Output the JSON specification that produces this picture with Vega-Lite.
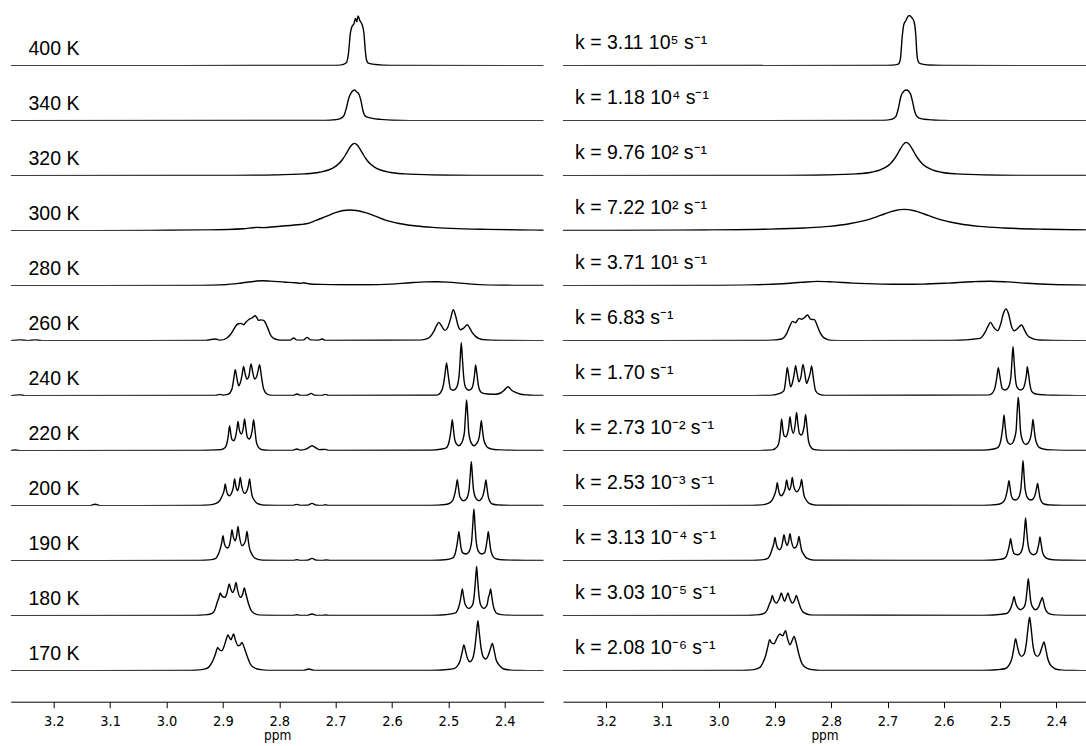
{
"$schema":"https://vega.github.io/schema/vega-lite/v6.json",
"padding":{"left":10.7,"top":11.6,"right":0,"bottom":0},
"background":"white",
"data":{"values":[
{"r":0,"lab":"400 K","k":"k = 3.11 10⁵ s⁻¹"},
{"r":1,"lab":"340 K","k":"k = 1.18 10⁴ s⁻¹"},
{"r":2,"lab":"320 K","k":"k = 9.76 10² s⁻¹"},
{"r":3,"lab":"300 K","k":"k = 7.22 10² s⁻¹"},
{"r":4,"lab":"280 K","k":"k = 3.71 10¹ s⁻¹"},
{"r":5,"lab":"260 K","k":"k = 6.83 s⁻¹"},
{"r":6,"lab":"240 K","k":"k = 1.70 s⁻¹"},
{"r":7,"lab":"220 K","k":"k = 2.73 10⁻² s⁻¹"},
{"r":8,"lab":"200 K","k":"k = 2.53 10⁻³ s⁻¹"},
{"r":9,"lab":"190 K","k":"k = 3.13 10⁻⁴ s⁻¹"},
{"r":10,"lab":"180 K","k":"k = 3.03 10⁻⁵ s⁻¹"},
{"r":11,"lab":"170 K","k":"k = 2.08 10⁻⁶ s⁻¹"},
{"r":0,"x":3.2764,"e":0,"s":0},
{"r":0,"x":2.7093,"e":0.3,"s":0.2},
{"r":0,"x":2.6915,"e":0.6,"s":0.4},
{"r":0,"x":2.6808,"e":3,"s":1.5},
{"r":0,"x":2.6773,"e":12,"s":6},
{"r":0,"x":2.6737,"e":33,"s":30},
{"r":0,"x":2.6711,"e":39,"s":41},
{"r":0,"x":2.6675,"e":42,"s":45},
{"r":0,"x":2.6649,"e":47.3,"s":48},
{"r":0,"x":2.6625,"e":44,"s":50},
{"r":0,"x":2.6602,"e":49.7,"s":50},
{"r":0,"x":2.6569,"e":45,"s":48},
{"r":0,"x":2.6528,"e":40.7,"s":44},
{"r":0,"x":2.6497,"e":32,"s":30},
{"r":0,"x":2.6478,"e":18,"s":12},
{"r":0,"x":2.6453,"e":6,"s":4},
{"r":0,"x":2.6418,"e":2.5,"s":2},
{"r":0,"x":2.6293,"e":1.2,"s":0.7},
{"r":0,"x":2.6027,"e":0.3,"s":0.2},
{"r":0,"x":2.3475,"e":0,"s":0},
{"r":0,"x":2.3309,"e":0,"s":0},
{"r":1,"x":3.2764,"e":0,"s":0},
{"r":1,"x":2.7181,"e":0.3,"s":0.2},
{"r":1,"x":2.7004,"e":1,"s":0.6},
{"r":1,"x":2.6915,"e":2,"s":1.5},
{"r":1,"x":2.6853,"e":5,"s":4},
{"r":1,"x":2.6808,"e":13,"s":12},
{"r":1,"x":2.6764,"e":23,"s":24},
{"r":1,"x":2.6711,"e":29,"s":29.5},
{"r":1,"x":2.6663,"e":30.7,"s":30.7},
{"r":1,"x":2.6622,"e":28.5,"s":29.5},
{"r":1,"x":2.6586,"e":26.5,"s":26},
{"r":1,"x":2.6551,"e":20,"s":18},
{"r":1,"x":2.6515,"e":10,"s":9},
{"r":1,"x":2.648,"e":5,"s":4.5},
{"r":1,"x":2.6435,"e":3.5,"s":2.5},
{"r":1,"x":2.6347,"e":2.3,"s":1.4},
{"r":1,"x":2.6204,"e":1.3,"s":0.7},
{"r":1,"x":2.5991,"e":0.4,"s":0.3},
{"r":1,"x":2.5672,"e":0,"s":0},
{"r":1,"x":2.3475,"e":0,"s":0},
{"r":1,"x":2.3309,"e":0,"s":0},
{"r":2,"x":3.2764,"e":0.1,"s":0.1},
{"r":2,"x":2.9863,"e":0.15,"s":0.15},
{"r":2,"x":2.8797,"e":0.3,"s":0.3},
{"r":2,"x":2.8087,"e":0.7,"s":0.7},
{"r":2,"x":2.7554,"e":1.8,"s":1.8},
{"r":2,"x":2.7288,"e":3.4,"s":3.5},
{"r":2,"x":2.7128,"e":5.7,"s":5.9},
{"r":2,"x":2.7021,"e":8.6,"s":8.8},
{"r":2,"x":2.695,"e":11.6,"s":12},
{"r":2,"x":2.6879,"e":16.2,"s":16.7},
{"r":2,"x":2.6826,"e":20.7,"s":21.3},
{"r":2,"x":2.6773,"e":25.8,"s":26.6},
{"r":2,"x":2.6719,"e":30.4,"s":31.3},
{"r":2,"x":2.6666,"e":32.3,"s":33.3},
{"r":2,"x":2.6613,"e":30.4,"s":31.3},
{"r":2,"x":2.6559,"e":25.8,"s":26.6},
{"r":2,"x":2.6506,"e":20.7,"s":21.3},
{"r":2,"x":2.6453,"e":16.2,"s":16.7},
{"r":2,"x":2.6382,"e":11.6,"s":12},
{"r":2,"x":2.6311,"e":8.6,"s":8.8},
{"r":2,"x":2.6204,"e":5.7,"s":5.9},
{"r":2,"x":2.6044,"e":3.4,"s":3.5},
{"r":2,"x":2.5778,"e":1.8,"s":1.8},
{"r":2,"x":2.5245,"e":0.7,"s":0.7},
{"r":2,"x":2.4535,"e":0.3,"s":0.3},
{"r":2,"x":2.3475,"e":0.15,"s":0.15},
{"r":2,"x":2.3309,"e":0.1,"s":0.1},
{"r":3,"x":3.2764,"e":0,"s":0.25},
{"r":3,"x":3.029,"e":0.3},
{"r":3,"x":2.926,"e":0.8},
{"r":3,"x":2.8638,"e":2},
{"r":3,"x":2.8389,"e":3.3},
{"r":3,"x":2.83,"e":3.1},
{"r":3,"x":2.7981,"e":4.5},
{"r":3,"x":2.7625,"e":6.2},
{"r":3,"x":2.7519,"e":6.9},
{"r":3,"x":2.7359,"e":10},
{"r":3,"x":2.7181,"e":14},
{"r":3,"x":2.7004,"e":18},
{"r":3,"x":2.6862,"e":20.2},
{"r":3,"x":2.6755,"e":20.7},
{"r":3,"x":2.6631,"e":20.2},
{"r":3,"x":2.6471,"e":18},
{"r":3,"x":2.6293,"e":14.5},
{"r":3,"x":2.6116,"e":10.5},
{"r":3,"x":2.5849,"e":7},
{"r":3,"x":2.5565,"e":4.7},
{"r":3,"x":2.5281,"e":3.3},
{"r":3,"x":2.4943,"e":2.3},
{"r":3,"x":2.4322,"e":1.3},
{"r":3,"x":2.3718,"e":0.7},
{"r":3,"x":2.3475,"e":0.55,"s":0.85},
{"r":3,"x":2.3309,"e":0.5,"s":0.8},
{"r":3,"x":3.203,"s":0.34},
{"r":3,"x":3.0254,"s":0.74},
{"r":3,"x":2.9189,"s":1.46},
{"r":3,"x":2.8478,"s":2.7},
{"r":3,"x":2.8034,"s":4.35},
{"r":3,"x":2.7679,"s":6.9},
{"r":3,"x":2.7412,"s":10.1},
{"r":3,"x":2.7235,"s":13.1},
{"r":3,"x":2.7057,"s":16.7},
{"r":3,"x":2.6879,"s":19.9},
{"r":3,"x":2.6702,"s":21.3},
{"r":3,"x":2.6524,"s":19.9},
{"r":3,"x":2.6347,"s":16.7},
{"r":3,"x":2.6169,"s":13.1},
{"r":3,"x":2.5991,"s":10.1},
{"r":3,"x":2.5725,"s":6.9},
{"r":3,"x":2.537,"s":4.35},
{"r":3,"x":2.4926,"s":2.7},
{"r":3,"x":2.4215,"s":1.46},
{"r":4,"x":3.2764,"e":0,"s":0},
{"r":4,"x":2.9402,"e":0.3,"s":0.8},
{"r":4,"x":2.8958,"e":1},
{"r":4,"x":2.8691,"e":2.5},
{"r":4,"x":2.8425,"e":4.5},
{"r":4,"x":2.83,"e":5},
{"r":4,"x":2.8158,"e":4.6},
{"r":4,"x":2.7892,"e":3.5},
{"r":4,"x":2.7714,"e":3},
{"r":4,"x":2.7625,"e":2.3,"s":2.6},
{"r":4,"x":2.7572,"e":3},
{"r":4,"x":2.7483,"e":2},
{"r":4,"x":2.727,"e":1.3},
{"r":4,"x":2.6915,"e":1},
{"r":4,"x":2.6382,"e":1,"s":1.6},
{"r":4,"x":2.6027,"e":1.6},
{"r":4,"x":2.5672,"e":3},
{"r":4,"x":2.5405,"e":3.8},
{"r":4,"x":2.521,"e":4},
{"r":4,"x":2.5014,"e":3.6},
{"r":4,"x":2.4784,"e":2.6},
{"r":4,"x":2.4517,"e":1.3,"s":2.4},
{"r":4,"x":2.4251,"e":0.6},
{"r":4,"x":2.3718,"e":0.3},
{"r":4,"x":2.3475,"e":0.2,"s":0.6},
{"r":4,"x":2.3309,"e":0.2,"s":0.5},
{"r":4,"x":3.029,"s":0.3},
{"r":4,"x":2.8869,"s":2},
{"r":4,"x":2.8514,"s":3.5},
{"r":4,"x":2.8247,"s":4.3},
{"r":4,"x":2.7981,"s":3.8},
{"r":4,"x":2.7093,"s":1.6},
{"r":4,"x":2.6737,"s":1.4},
{"r":4,"x":2.5938,"s":2.6},
{"r":4,"x":2.5494,"s":4},
{"r":4,"x":2.5174,"s":4.5},
{"r":4,"x":2.4872,"s":3.8},
{"r":4,"x":2.4073,"s":1.2},
{"r":5,"x":3.2764,"e":0,"s":0},
{"r":5,"x":3.2599,"e":0.8},
{"r":5,"x":3.2457,"e":0},
{"r":5,"x":3.2332,"e":0.8},
{"r":5,"x":3.2208,"e":0},
{"r":5,"x":2.9313,"e":0.3},
{"r":5,"x":2.9135,"e":1.7},
{"r":5,"x":2.9046,"e":0.4,"s":0.6},
{"r":5,"x":2.8928,"e":2.7},
{"r":5,"x":2.8869,"e":6},
{"r":5,"x":2.881,"e":11},
{"r":5,"x":2.8762,"e":15.5},
{"r":5,"x":2.8721,"e":17},
{"r":5,"x":2.8679,"e":17.3},
{"r":5,"x":2.8633,"e":16},
{"r":5,"x":2.8585,"e":19},
{"r":5,"x":2.8544,"e":21},
{"r":5,"x":2.8483,"e":22.7},
{"r":5,"x":2.8425,"e":25},
{"r":5,"x":2.8398,"e":23},
{"r":5,"x":2.8366,"e":20.3,"s":21.5},
{"r":5,"x":2.8327,"e":20.8},
{"r":5,"x":2.8277,"e":20.3},
{"r":5,"x":2.8247,"e":18,"s":15},
{"r":5,"x":2.8217,"e":14.3},
{"r":5,"x":2.8185,"e":10},
{"r":5,"x":2.8158,"e":6},
{"r":5,"x":2.8114,"e":3},
{"r":5,"x":2.807,"e":1.7},
{"r":5,"x":2.7981,"e":0.4},
{"r":5,"x":2.7803,"e":0.5},
{"r":5,"x":2.7744,"e":2.7},
{"r":5,"x":2.7688,"e":0.6},
{"r":5,"x":2.7572,"e":0.6},
{"r":5,"x":2.7506,"e":3.3},
{"r":5,"x":2.7448,"e":0.8},
{"r":5,"x":2.7306,"e":0.4},
{"r":5,"x":2.724,"e":1.7},
{"r":5,"x":2.7181,"e":0.3},
{"r":5,"x":2.5494,"e":0.6},
{"r":5,"x":2.5375,"e":2},
{"r":5,"x":2.5316,"e":4.5},
{"r":5,"x":2.5258,"e":9.3},
{"r":5,"x":2.521,"e":15},
{"r":5,"x":2.5169,"e":18.3,"s":18.3},
{"r":5,"x":2.513,"e":15.5},
{"r":5,"x":2.5062,"e":10.3},
{"r":5,"x":2.5014,"e":13},
{"r":5,"x":2.4961,"e":22},
{"r":5,"x":2.4913,"e":31},
{"r":5,"x":2.4872,"e":25},
{"r":5,"x":2.4828,"e":15},
{"r":5,"x":2.4784,"e":11},
{"r":5,"x":2.4721,"e":13},
{"r":5,"x":2.4665,"e":16},
{"r":5,"x":2.4615,"e":12},
{"r":5,"x":2.457,"e":7.5},
{"r":5,"x":2.4517,"e":4.3,"s":5.5},
{"r":5,"x":2.4464,"e":2.3},
{"r":5,"x":2.437,"e":1},
{"r":5,"x":2.4073,"e":0.3,"s":0.2},
{"r":5,"x":2.3475,"e":0,"s":0},
{"r":5,"x":2.3309,"e":0,"s":0},
{"r":5,"x":2.9402,"s":0.2},
{"r":5,"x":2.8881,"s":1.7},
{"r":5,"x":2.8792,"s":7},
{"r":5,"x":2.8732,"s":15},
{"r":5,"x":2.8686,"s":19.3},
{"r":5,"x":2.8638,"s":18},
{"r":5,"x":2.8572,"s":22.3},
{"r":5,"x":2.8522,"s":21.5},
{"r":5,"x":2.8469,"s":23.5},
{"r":5,"x":2.8419,"s":25.7},
{"r":5,"x":2.83,"s":21},
{"r":5,"x":2.8199,"s":8.3},
{"r":5,"x":2.8149,"s":4},
{"r":5,"x":2.811,"s":2.3},
{"r":5,"x":2.7993,"s":0.3},
{"r":5,"x":2.7625,"s":0.1},
{"r":5,"x":2.5849,"s":0.2},
{"r":5,"x":2.5357,"s":2.3},
{"r":5,"x":2.5268,"s":8.3},
{"r":5,"x":2.5219,"s":14},
{"r":5,"x":2.5121,"s":14},
{"r":5,"x":2.5045,"s":10},
{"r":5,"x":2.4988,"s":17},
{"r":5,"x":2.4949,"s":26},
{"r":5,"x":2.4895,"s":31.7},
{"r":5,"x":2.4846,"s":26},
{"r":5,"x":2.4801,"s":15},
{"r":5,"x":2.4748,"s":10},
{"r":5,"x":2.4686,"s":12.5},
{"r":5,"x":2.4618,"s":15.7},
{"r":5,"x":2.4561,"s":10},
{"r":5,"x":2.4469,"s":3.3},
{"r":5,"x":2.4322,"s":0.7},
{"r":6,"x":3.2764,"e":0,"s":0},
{"r":6,"x":3.2599,"e":0.8},
{"r":6,"x":3.251,"e":0},
{"r":6,"x":2.9402,"e":0.2,"s":0.1},
{"r":6,"x":2.9135,"e":0.3,"s":0.3},
{"r":6,"x":2.9046,"e":1.3,"s":0.6},
{"r":6,"x":2.8993,"e":0.5,"s":1},
{"r":6,"x":2.8904,"e":1.5,"s":2.5},
{"r":6,"x":2.8839,"e":6.7,"s":5},
{"r":6,"x":2.8807,"e":17,"s":16},
{"r":6,"x":2.878,"e":26,"s":28.3},
{"r":6,"x":2.8753,"e":18,"s":19},
{"r":6,"x":2.8721,"e":10,"s":9},
{"r":6,"x":2.8691,"e":13,"s":12.5},
{"r":6,"x":2.8659,"e":21,"s":21},
{"r":6,"x":2.8633,"e":29.3,"s":30},
{"r":6,"x":2.8606,"e":22,"s":22},
{"r":6,"x":2.8572,"e":16.7,"s":14},
{"r":6,"x":2.8537,"e":20,"s":19},
{"r":6,"x":2.8501,"e":31.7,"s":31.3},
{"r":6,"x":2.8469,"e":23,"s":22},
{"r":6,"x":2.8437,"e":16.7,"s":12.3},
{"r":6,"x":2.8402,"e":19,"s":17},
{"r":6,"x":2.8375,"e":25,"s":22},
{"r":6,"x":2.8348,"e":31,"s":29.7},
{"r":6,"x":2.8318,"e":20,"s":18},
{"r":6,"x":2.8277,"e":6.7,"s":5},
{"r":6,"x":2.8217,"e":1.7,"s":1.5},
{"r":6,"x":2.8123,"e":0.3,"s":0.3},
{"r":6,"x":2.775,"e":0.3},
{"r":6,"x":2.7684,"e":1.7},
{"r":6,"x":2.7625,"e":0.3},
{"r":6,"x":2.7501,"e":0.5},
{"r":6,"x":2.7435,"e":2.3},
{"r":6,"x":2.7377,"e":0.5},
{"r":6,"x":2.724,"e":0.3},
{"r":6,"x":2.7181,"e":1.3},
{"r":6,"x":2.7128,"e":0.2},
{"r":6,"x":2.521,"e":0.5,"s":0.6},
{"r":6,"x":2.5139,"e":3,"s":2.5},
{"r":6,"x":2.5091,"e":10,"s":8},
{"r":6,"x":2.5059,"e":22,"s":18},
{"r":6,"x":2.5032,"e":32.7,"s":28},
{"r":6,"x":2.5006,"e":22,"s":20},
{"r":6,"x":2.4961,"e":6.7,"s":7},
{"r":6,"x":2.4908,"e":5.5,"s":5.7},
{"r":6,"x":2.4855,"e":8,"s":8},
{"r":6,"x":2.481,"e":20,"s":18},
{"r":6,"x":2.4789,"e":38,"s":35},
{"r":6,"x":2.4771,"e":53,"s":49},
{"r":6,"x":2.4752,"e":38,"s":35},
{"r":6,"x":2.473,"e":20,"s":18},
{"r":6,"x":2.4695,"e":8.3,"s":8},
{"r":6,"x":2.4641,"e":5.5,"s":5.7},
{"r":6,"x":2.4593,"e":6.7,"s":7},
{"r":6,"x":2.4549,"e":15,"s":15},
{"r":6,"x":2.453,"e":24,"s":22},
{"r":6,"x":2.4517,"e":30.7,"s":29},
{"r":6,"x":2.4494,"e":22,"s":21},
{"r":6,"x":2.4467,"e":10,"s":10},
{"r":6,"x":2.4441,"e":5,"s":4.5},
{"r":6,"x":2.4393,"e":2.5,"s":2.2},
{"r":6,"x":2.4309,"e":1.7,"s":1.2},
{"r":6,"x":2.4162,"e":1.5,"s":0.6},
{"r":6,"x":2.4073,"e":2.7,"s":0.4},
{"r":6,"x":2.402,"e":5},
{"r":6,"x":2.3943,"e":9},
{"r":6,"x":2.3878,"e":5.5},
{"r":6,"x":2.3807,"e":3.3,"s":0.2},
{"r":6,"x":2.3718,"e":1.5},
{"r":6,"x":2.3599,"e":0.7},
{"r":6,"x":2.3475,"e":0.3,"s":0},
{"r":6,"x":2.3309,"e":0.3,"s":0},
{"r":7,"x":3.2764,"e":0,"s":0},
{"r":7,"x":3.2688,"e":0.7},
{"r":7,"x":3.2563,"e":0},
{"r":7,"x":2.9402,"e":0.3,"s":0.1},
{"r":7,"x":2.9046,"e":1,"s":0.8},
{"r":7,"x":2.8958,"e":3.3,"s":4},
{"r":7,"x":2.8922,"e":9,"s":10},
{"r":7,"x":2.8904,"e":15,"s":18},
{"r":7,"x":2.8881,"e":25,"s":31.7},
{"r":7,"x":2.8858,"e":16,"s":21},
{"r":7,"x":2.8837,"e":11,"s":15},
{"r":7,"x":2.881,"e":10,"s":14},
{"r":7,"x":2.878,"e":13,"s":16.5},
{"r":7,"x":2.8755,"e":20,"s":23},
{"r":7,"x":2.8732,"e":29.3,"s":34},
{"r":7,"x":2.8709,"e":21,"s":24.5},
{"r":7,"x":2.8673,"e":16.7,"s":17.3},
{"r":7,"x":2.864,"e":22,"s":26},
{"r":7,"x":2.8615,"e":31.7,"s":38.3},
{"r":7,"x":2.8592,"e":22,"s":27},
{"r":7,"x":2.8563,"e":13,"s":17},
{"r":7,"x":2.8531,"e":11.7,"s":15.7},
{"r":7,"x":2.8501,"e":15,"s":19},
{"r":7,"x":2.8478,"e":21,"s":25},
{"r":7,"x":2.8455,"e":31,"s":36.3},
{"r":7,"x":2.8432,"e":21,"s":25},
{"r":7,"x":2.8407,"e":9,"s":11},
{"r":7,"x":2.8384,"e":5,"s":6},
{"r":7,"x":2.8345,"e":2,"s":2.5},
{"r":7,"x":2.8306,"e":1,"s":1.2},
{"r":7,"x":2.8158,"e":0.3,"s":0.3},
{"r":7,"x":2.7768,"e":0.3},
{"r":7,"x":2.7684,"e":1.7},
{"r":7,"x":2.7625,"e":0.4},
{"r":7,"x":2.7506,"e":2},
{"r":7,"x":2.7418,"e":5},
{"r":7,"x":2.7341,"e":2.5},
{"r":7,"x":2.7288,"e":1},
{"r":7,"x":2.7181,"e":1.3},
{"r":7,"x":2.7128,"e":0.3},
{"r":7,"x":2.5316,"e":0.5,"s":0.5},
{"r":7,"x":2.5139,"e":1.5,"s":1.5},
{"r":7,"x":2.505,"e":2.5,"s":2.8},
{"r":7,"x":2.5002,"e":6,"s":7},
{"r":7,"x":2.497,"e":14,"s":16},
{"r":7,"x":2.495,"e":22,"s":25},
{"r":7,"x":2.4931,"e":31,"s":35.7},
{"r":7,"x":2.4911,"e":22,"s":25},
{"r":7,"x":2.489,"e":12,"s":14},
{"r":7,"x":2.486,"e":7,"s":8},
{"r":7,"x":2.4814,"e":5,"s":6.3},
{"r":7,"x":2.4766,"e":7.5,"s":9},
{"r":7,"x":2.4716,"e":18,"s":20},
{"r":7,"x":2.4696,"e":36,"s":40},
{"r":7,"x":2.4677,"e":50.7,"s":53.5},
{"r":7,"x":2.4657,"e":36,"s":40},
{"r":7,"x":2.4638,"e":18,"s":20},
{"r":7,"x":2.4593,"e":7.5,"s":9},
{"r":7,"x":2.4547,"e":5,"s":6.3},
{"r":7,"x":2.4499,"e":7,"s":8},
{"r":7,"x":2.4455,"e":13,"s":14},
{"r":7,"x":2.4435,"e":21,"s":22},
{"r":7,"x":2.4416,"e":30,"s":31.3},
{"r":7,"x":2.4396,"e":21,"s":22},
{"r":7,"x":2.4375,"e":12,"s":12.5},
{"r":7,"x":2.4339,"e":6,"s":6},
{"r":7,"x":2.4299,"e":3,"s":3},
{"r":7,"x":2.4215,"e":1.5,"s":1.5},
{"r":7,"x":2.4073,"e":0.8,"s":0.8},
{"r":7,"x":2.3718,"e":0.3,"s":0.3},
{"r":7,"x":2.3475,"e":0.2,"s":0.2},
{"r":7,"x":2.3309,"e":0.2,"s":0.2},
{"r":8,"x":3.2764,"e":0,"s":0},
{"r":8,"x":3.1355,"e":0},
{"r":8,"x":3.1267,"e":1.5},
{"r":8,"x":3.1178,"e":0},
{"r":8,"x":2.9402,"e":0.3,"s":0.3},
{"r":8,"x":2.9224,"e":0.8,"s":0.8},
{"r":8,"x":2.9135,"e":2,"s":2},
{"r":8,"x":2.9064,"e":4.5,"s":4.5},
{"r":8,"x":2.902,"e":9,"s":9},
{"r":8,"x":2.8979,"e":15,"s":16},
{"r":8,"x":2.8958,"e":21.7,"s":23},
{"r":8,"x":2.8936,"e":15,"s":16},
{"r":8,"x":2.8911,"e":11,"s":11},
{"r":8,"x":2.8881,"e":10,"s":10},
{"r":8,"x":2.8851,"e":12,"s":12},
{"r":8,"x":2.8816,"e":18,"s":17.5},
{"r":8,"x":2.8792,"e":26.7,"s":25.7},
{"r":8,"x":2.8768,"e":19,"s":19},
{"r":8,"x":2.8739,"e":15,"s":15.7},
{"r":8,"x":2.8714,"e":20,"s":20},
{"r":8,"x":2.8691,"e":28.3,"s":28.3},
{"r":8,"x":2.8668,"e":20,"s":20},
{"r":8,"x":2.8615,"e":12.3,"s":14},
{"r":8,"x":2.8567,"e":16,"s":17},
{"r":8,"x":2.8547,"e":20,"s":20},
{"r":8,"x":2.8526,"e":26.7,"s":26.3},
{"r":8,"x":2.8505,"e":18,"s":18},
{"r":8,"x":2.8482,"e":10,"s":10},
{"r":8,"x":2.8455,"e":6.7,"s":6.7},
{"r":8,"x":2.8416,"e":3.5,"s":3.5},
{"r":8,"x":2.8366,"e":1.7,"s":1.7},
{"r":8,"x":2.8247,"e":0.4,"s":0.4},
{"r":8,"x":2.7768,"e":0.2},
{"r":8,"x":2.7684,"e":1.3},
{"r":8,"x":2.7625,"e":0.3},
{"r":8,"x":2.7501,"e":0.4},
{"r":8,"x":2.7418,"e":2.3},
{"r":8,"x":2.7341,"e":0.4},
{"r":8,"x":2.7235,"e":0.2},
{"r":8,"x":2.7181,"e":1},
{"r":8,"x":2.7128,"e":0.2},
{"r":8,"x":2.5316,"e":0.3,"s":0.3},
{"r":8,"x":2.505,"e":1.2,"s":1.2},
{"r":8,"x":2.4974,"e":2.5,"s":2.5},
{"r":8,"x":2.4917,"e":6,"s":6},
{"r":8,"x":2.4881,"e":13,"s":13},
{"r":8,"x":2.4862,"e":19,"s":19},
{"r":8,"x":2.4842,"e":26,"s":25},
{"r":8,"x":2.4823,"e":19,"s":18},
{"r":8,"x":2.4801,"e":10,"s":10},
{"r":8,"x":2.4771,"e":6.5,"s":6.5},
{"r":8,"x":2.4725,"e":5,"s":5.7},
{"r":8,"x":2.4677,"e":7,"s":7.5},
{"r":8,"x":2.4633,"e":16,"s":16},
{"r":8,"x":2.4613,"e":30,"s":30},
{"r":8,"x":2.4593,"e":44,"s":45},
{"r":8,"x":2.4574,"e":30,"s":30},
{"r":8,"x":2.4554,"e":16,"s":16},
{"r":8,"x":2.4508,"e":7,"s":7.5},
{"r":8,"x":2.4458,"e":5,"s":5.7},
{"r":8,"x":2.4411,"e":7,"s":7},
{"r":8,"x":2.4373,"e":13,"s":12},
{"r":8,"x":2.4354,"e":19,"s":17},
{"r":8,"x":2.4334,"e":25.7,"s":22.3},
{"r":8,"x":2.4315,"e":18,"s":16},
{"r":8,"x":2.4292,"e":9,"s":8},
{"r":8,"x":2.426,"e":4,"s":3.5},
{"r":8,"x":2.422,"e":1.7,"s":1.7},
{"r":8,"x":2.4126,"e":0.7,"s":0.7},
{"r":8,"x":2.3895,"e":0.3,"s":0.3},
{"r":8,"x":2.3475,"e":0.2,"s":0.2},
{"r":8,"x":2.3309,"e":0.2,"s":0.2},
{"r":9,"x":3.2764,"e":0,"s":0},
{"r":9,"x":2.9402,"e":0.3,"s":0.3},
{"r":9,"x":2.9224,"e":0.8,"s":0.8},
{"r":9,"x":2.9135,"e":2,"s":2},
{"r":9,"x":2.9077,"e":7,"s":7},
{"r":9,"x":2.9041,"e":13,"s":13},
{"r":9,"x":2.902,"e":18,"s":17},
{"r":9,"x":2.8998,"e":25,"s":23.3},
{"r":9,"x":2.8977,"e":18,"s":17},
{"r":9,"x":2.8952,"e":14,"s":12.5},
{"r":9,"x":2.8917,"e":12.7,"s":11},
{"r":9,"x":2.8887,"e":15,"s":13},
{"r":9,"x":2.8862,"e":22,"s":19},
{"r":9,"x":2.8839,"e":31,"s":26},
{"r":9,"x":2.8816,"e":24,"s":20},
{"r":9,"x":2.878,"e":20,"s":15.3},
{"r":9,"x":2.8755,"e":25,"s":20},
{"r":9,"x":2.8732,"e":34.3,"s":27},
{"r":9,"x":2.8709,"e":25,"s":20},
{"r":9,"x":2.8661,"e":15,"s":12.7},
{"r":9,"x":2.862,"e":17,"s":14},
{"r":9,"x":2.8595,"e":21,"s":18},
{"r":9,"x":2.8572,"e":29.3,"s":24.3},
{"r":9,"x":2.8549,"e":20,"s":17},
{"r":9,"x":2.8526,"e":12,"s":10.5},
{"r":9,"x":2.8501,"e":8.3,"s":7.5},
{"r":9,"x":2.846,"e":4,"s":4},
{"r":9,"x":2.8425,"e":2.3,"s":2.3},
{"r":9,"x":2.83,"e":0.5,"s":0.5},
{"r":9,"x":2.7768,"e":0.2},
{"r":9,"x":2.7684,"e":1},
{"r":9,"x":2.7625,"e":0.2},
{"r":9,"x":2.7501,"e":0.4},
{"r":9,"x":2.7418,"e":2.3},
{"r":9,"x":2.7341,"e":0.4},
{"r":9,"x":2.7235,"e":0.2},
{"r":9,"x":2.7164,"e":0.7},
{"r":9,"x":2.7093,"e":0.2},
{"r":9,"x":2.5316,"e":0.3,"s":0.3},
{"r":9,"x":2.505,"e":1,"s":1},
{"r":9,"x":2.4931,"e":2.5,"s":2.2},
{"r":9,"x":2.4885,"e":6,"s":5},
{"r":9,"x":2.4853,"e":14,"s":11},
{"r":9,"x":2.4833,"e":21,"s":16},
{"r":9,"x":2.4814,"e":29,"s":22},
{"r":9,"x":2.4794,"e":21,"s":16},
{"r":9,"x":2.4773,"e":12,"s":10},
{"r":9,"x":2.4739,"e":7.5,"s":6.5},
{"r":9,"x":2.4682,"e":6.7,"s":6},
{"r":9,"x":2.4633,"e":9,"s":8},
{"r":9,"x":2.4588,"e":19,"s":17},
{"r":9,"x":2.4567,"e":36,"s":30},
{"r":9,"x":2.4547,"e":51.7,"s":42.7},
{"r":9,"x":2.4528,"e":36,"s":30},
{"r":9,"x":2.4506,"e":19,"s":17},
{"r":9,"x":2.4464,"e":9,"s":8},
{"r":9,"x":2.4411,"e":6.7,"s":6},
{"r":9,"x":2.4357,"e":8,"s":7.5},
{"r":9,"x":2.4331,"e":14,"s":12},
{"r":9,"x":2.4311,"e":21,"s":17},
{"r":9,"x":2.4292,"e":29,"s":23.7},
{"r":9,"x":2.4272,"e":21,"s":17},
{"r":9,"x":2.4249,"e":11,"s":9},
{"r":9,"x":2.4215,"e":5,"s":4.5},
{"r":9,"x":2.4162,"e":2,"s":2},
{"r":9,"x":2.4073,"e":1,"s":1},
{"r":9,"x":2.3807,"e":0.4,"s":0.4},
{"r":9,"x":2.3475,"e":0.2,"s":0.2},
{"r":9,"x":2.3309,"e":0.2,"s":0.2},
{"r":10,"x":3.2764,"e":0,"s":0},
{"r":10,"x":2.949,"e":0.3,"s":0.3},
{"r":10,"x":2.9313,"e":0.8,"s":0.8},
{"r":10,"x":2.9224,"e":1.7,"s":1.7},
{"r":10,"x":2.9176,"e":3,"s":3},
{"r":10,"x":2.9135,"e":7,"s":6},
{"r":10,"x":2.9103,"e":13,"s":11},
{"r":10,"x":2.9071,"e":18,"s":15},
{"r":10,"x":2.9046,"e":22.7,"s":20.3},
{"r":10,"x":2.9021,"e":20,"s":16},
{"r":10,"x":2.897,"e":18.3,"s":12.7},
{"r":10,"x":2.8931,"e":22,"s":16},
{"r":10,"x":2.891,"e":27,"s":19},
{"r":10,"x":2.8887,"e":31.7,"s":22.7},
{"r":10,"x":2.8862,"e":27,"s":19},
{"r":10,"x":2.8828,"e":23.3,"s":14.3},
{"r":10,"x":2.8794,"e":27,"s":19},
{"r":10,"x":2.8768,"e":33.3,"s":22.7},
{"r":10,"x":2.8741,"e":26,"s":18},
{"r":10,"x":2.8691,"e":18.3,"s":12.7},
{"r":10,"x":2.8647,"e":22,"s":16},
{"r":10,"x":2.862,"e":27.7,"s":20.3},
{"r":10,"x":2.8592,"e":22,"s":16},
{"r":10,"x":2.8544,"e":11.7,"s":8},
{"r":10,"x":2.8505,"e":6,"s":4},
{"r":10,"x":2.8455,"e":2.7,"s":2.2},
{"r":10,"x":2.8336,"e":0.6,"s":0.6},
{"r":10,"x":2.7768,"e":0.2},
{"r":10,"x":2.7684,"e":1},
{"r":10,"x":2.7625,"e":0.2},
{"r":10,"x":2.7501,"e":0.3},
{"r":10,"x":2.7418,"e":1.7},
{"r":10,"x":2.7341,"e":0.3},
{"r":10,"x":2.7235,"e":0.2},
{"r":10,"x":2.7181,"e":0.7},
{"r":10,"x":2.711,"e":0.2},
{"r":10,"x":2.5316,"e":0.3,"s":0.3},
{"r":10,"x":2.505,"e":1,"s":1},
{"r":10,"x":2.4885,"e":2.5,"s":2.2},
{"r":10,"x":2.4833,"e":6,"s":5},
{"r":10,"x":2.4796,"e":13,"s":10},
{"r":10,"x":2.4775,"e":19.5,"s":14},
{"r":10,"x":2.4753,"e":26.7,"s":19.3},
{"r":10,"x":2.4732,"e":20,"s":14.5},
{"r":10,"x":2.4707,"e":12,"s":10},
{"r":10,"x":2.4636,"e":7.3,"s":6},
{"r":10,"x":2.457,"e":11,"s":9},
{"r":10,"x":2.4542,"e":20,"s":15},
{"r":10,"x":2.4521,"e":34,"s":26},
{"r":10,"x":2.4499,"e":49.3,"s":37},
{"r":10,"x":2.4478,"e":34,"s":26},
{"r":10,"x":2.4457,"e":20,"s":15},
{"r":10,"x":2.4428,"e":11,"s":9},
{"r":10,"x":2.437,"e":7.3,"s":6},
{"r":10,"x":2.4313,"e":11,"s":9},
{"r":10,"x":2.429,"e":18,"s":13},
{"r":10,"x":2.4268,"e":22,"s":16},
{"r":10,"x":2.4251,"e":26.7,"s":18.3},
{"r":10,"x":2.4229,"e":19,"s":14},
{"r":10,"x":2.4204,"e":10,"s":8},
{"r":10,"x":2.4171,"e":4.5,"s":4},
{"r":10,"x":2.4132,"e":2,"s":2},
{"r":10,"x":2.4038,"e":0.8,"s":0.8},
{"r":10,"x":2.3718,"e":0.3,"s":0.3},
{"r":10,"x":2.3475,"e":0.2,"s":0.2},
{"r":10,"x":2.3309,"e":0.2,"s":0.2},
{"r":11,"x":3.2764,"e":0,"s":0},
{"r":11,"x":2.9579,"e":0.3,"s":0.3},
{"r":11,"x":2.9402,"e":0.8,"s":0.8},
{"r":11,"x":2.9313,"e":1.8,"s":2},
{"r":11,"x":2.9254,"e":3.3,"s":4},
{"r":11,"x":2.9206,"e":7,"s":9},
{"r":11,"x":2.9165,"e":11.7,"s":15},
{"r":11,"x":2.9125,"e":18,"s":24},
{"r":11,"x":2.9094,"e":23.3,"s":31},
{"r":11,"x":2.9061,"e":21,"s":28},
{"r":11,"x":2.9016,"e":20,"s":27},
{"r":11,"x":2.8975,"e":25,"s":31},
{"r":11,"x":2.894,"e":31.5,"s":35},
{"r":11,"x":2.891,"e":35.7,"s":36.7},
{"r":11,"x":2.8883,"e":33,"s":35.5},
{"r":11,"x":2.8856,"e":31,"s":35},
{"r":11,"x":2.8833,"e":34,"s":38},
{"r":11,"x":2.881,"e":36.7,"s":40},
{"r":11,"x":2.878,"e":31,"s":33},
{"r":11,"x":2.8732,"e":25,"s":26},
{"r":11,"x":2.8695,"e":25.5,"s":30},
{"r":11,"x":2.8661,"e":28.3,"s":34.3},
{"r":11,"x":2.8627,"e":24,"s":29},
{"r":11,"x":2.8572,"e":15,"s":16},
{"r":11,"x":2.8514,"e":6.7,"s":6.5},
{"r":11,"x":2.8425,"e":2.3,"s":2.3},
{"r":11,"x":2.83,"e":0.8,"s":0.7},
{"r":11,"x":2.81,"e":0.2,"s":0.2},
{"r":11,"x":2.7572,"e":0.2},
{"r":11,"x":2.7478,"e":1.7},
{"r":11,"x":2.7377,"e":0.2},
{"r":11,"x":2.5316,"e":0.3,"s":0.3},
{"r":11,"x":2.505,"e":1,"s":1},
{"r":11,"x":2.4903,"e":2,"s":2.2},
{"r":11,"x":2.4842,"e":4.5,"s":5.5},
{"r":11,"x":2.4792,"e":10,"s":12},
{"r":11,"x":2.4757,"e":18,"s":22},
{"r":11,"x":2.4725,"e":25.7,"s":32},
{"r":11,"x":2.4693,"e":19,"s":24},
{"r":11,"x":2.4659,"e":12,"s":17},
{"r":11,"x":2.4618,"e":9,"s":14.3},
{"r":11,"x":2.457,"e":12,"s":17},
{"r":11,"x":2.4535,"e":21,"s":27},
{"r":11,"x":2.4503,"e":37,"s":43},
{"r":11,"x":2.4476,"e":50,"s":53.5},
{"r":11,"x":2.445,"e":37,"s":43},
{"r":11,"x":2.4418,"e":22,"s":26},
{"r":11,"x":2.4384,"e":14,"s":17},
{"r":11,"x":2.4339,"e":11.7,"s":14.3},
{"r":11,"x":2.4295,"e":15,"s":17},
{"r":11,"x":2.4254,"e":22,"s":24},
{"r":11,"x":2.422,"e":27.3,"s":28.7},
{"r":11,"x":2.4187,"e":20,"s":21},
{"r":11,"x":2.4153,"e":11,"s":12},
{"r":11,"x":2.4114,"e":6.7,"s":6.5},
{"r":11,"x":2.4064,"e":3.5,"s":3.5},
{"r":11,"x":2.4014,"e":1.7,"s":1.7},
{"r":11,"x":2.3895,"e":0.6,"s":0.6},
{"r":11,"x":2.3718,"e":0.2,"s":0.2},
{"r":11,"x":2.3475,"e":0,"s":0},
{"r":11,"x":2.3309,"e":0,"s":0}
]},
"hconcat":[
{"vconcat":[
{"transform":[{"filter":"datum.r==0"}],"width":533,"height":54.1,"layer":[{"transform":[{"filter":"isValid(datum.e)"}],"mark":{"type":"line","clip":true},"encoding":{"x":{"field":"x","type":"quantitative","scale":{"domain":[2.3309,3.2764],"reverse":true,"nice":false,"zero":false},"axis":null},"y":{"field":"e","type":"quantitative","scale":{"domain":[0,54.1],"nice":false,"zero":false},"axis":null},"order":{"field":"x","type":"quantitative","sort":"descending"}}},{"transform":[{"filter":"isValid(datum.lab)"}],"mark":"text","encoding":{"x":{"datum":3.2448,"type":"quantitative"},"y":{"datum":11,"type":"quantitative"},"text":{"field":"lab"}}}]},
{"transform":[{"filter":"datum.r==1"}],"width":533,"height":54.1,"layer":[{"transform":[{"filter":"isValid(datum.e)"}],"mark":{"type":"line","clip":true},"encoding":{"x":{"field":"x","type":"quantitative","scale":{"domain":[2.3309,3.2764],"reverse":true,"nice":false,"zero":false},"axis":null},"y":{"field":"e","type":"quantitative","scale":{"domain":[0,54.1],"nice":false,"zero":false},"axis":null},"order":{"field":"x","type":"quantitative","sort":"descending"}}},{"transform":[{"filter":"isValid(datum.lab)"}],"mark":"text","encoding":{"x":{"datum":3.2448,"type":"quantitative"},"y":{"datum":11,"type":"quantitative"},"text":{"field":"lab"}}}]},
{"transform":[{"filter":"datum.r==2"}],"width":533,"height":54.1,"layer":[{"transform":[{"filter":"isValid(datum.e)"}],"mark":{"type":"line","clip":true},"encoding":{"x":{"field":"x","type":"quantitative","scale":{"domain":[2.3309,3.2764],"reverse":true,"nice":false,"zero":false},"axis":null},"y":{"field":"e","type":"quantitative","scale":{"domain":[0,54.1],"nice":false,"zero":false},"axis":null},"order":{"field":"x","type":"quantitative","sort":"descending"}}},{"transform":[{"filter":"isValid(datum.lab)"}],"mark":"text","encoding":{"x":{"datum":3.2448,"type":"quantitative"},"y":{"datum":11,"type":"quantitative"},"text":{"field":"lab"}}}]},
{"transform":[{"filter":"datum.r==3"}],"width":533,"height":54.1,"layer":[{"transform":[{"filter":"isValid(datum.e)"}],"mark":{"type":"line","clip":true},"encoding":{"x":{"field":"x","type":"quantitative","scale":{"domain":[2.3309,3.2764],"reverse":true,"nice":false,"zero":false},"axis":null},"y":{"field":"e","type":"quantitative","scale":{"domain":[0,54.1],"nice":false,"zero":false},"axis":null},"order":{"field":"x","type":"quantitative","sort":"descending"}}},{"transform":[{"filter":"isValid(datum.lab)"}],"mark":"text","encoding":{"x":{"datum":3.2448,"type":"quantitative"},"y":{"datum":11,"type":"quantitative"},"text":{"field":"lab"}}}]},
{"transform":[{"filter":"datum.r==4"}],"width":533,"height":54.1,"layer":[{"transform":[{"filter":"isValid(datum.e)"}],"mark":{"type":"line","clip":true},"encoding":{"x":{"field":"x","type":"quantitative","scale":{"domain":[2.3309,3.2764],"reverse":true,"nice":false,"zero":false},"axis":null},"y":{"field":"e","type":"quantitative","scale":{"domain":[0,54.1],"nice":false,"zero":false},"axis":null},"order":{"field":"x","type":"quantitative","sort":"descending"}}},{"transform":[{"filter":"isValid(datum.lab)"}],"mark":"text","encoding":{"x":{"datum":3.2448,"type":"quantitative"},"y":{"datum":11,"type":"quantitative"},"text":{"field":"lab"}}}]},
{"transform":[{"filter":"datum.r==5"}],"width":533,"height":54.1,"layer":[{"transform":[{"filter":"isValid(datum.e)"}],"mark":{"type":"line","clip":true},"encoding":{"x":{"field":"x","type":"quantitative","scale":{"domain":[2.3309,3.2764],"reverse":true,"nice":false,"zero":false},"axis":null},"y":{"field":"e","type":"quantitative","scale":{"domain":[0,54.1],"nice":false,"zero":false},"axis":null},"order":{"field":"x","type":"quantitative","sort":"descending"}}},{"transform":[{"filter":"isValid(datum.lab)"}],"mark":"text","encoding":{"x":{"datum":3.2448,"type":"quantitative"},"y":{"datum":11,"type":"quantitative"},"text":{"field":"lab"}}}]},
{"transform":[{"filter":"datum.r==6"}],"width":533,"height":54.1,"layer":[{"transform":[{"filter":"isValid(datum.e)"}],"mark":{"type":"line","clip":true},"encoding":{"x":{"field":"x","type":"quantitative","scale":{"domain":[2.3309,3.2764],"reverse":true,"nice":false,"zero":false},"axis":null},"y":{"field":"e","type":"quantitative","scale":{"domain":[0,54.1],"nice":false,"zero":false},"axis":null},"order":{"field":"x","type":"quantitative","sort":"descending"}}},{"transform":[{"filter":"isValid(datum.lab)"}],"mark":"text","encoding":{"x":{"datum":3.2448,"type":"quantitative"},"y":{"datum":11,"type":"quantitative"},"text":{"field":"lab"}}}]},
{"transform":[{"filter":"datum.r==7"}],"width":533,"height":54.1,"layer":[{"transform":[{"filter":"isValid(datum.e)"}],"mark":{"type":"line","clip":true},"encoding":{"x":{"field":"x","type":"quantitative","scale":{"domain":[2.3309,3.2764],"reverse":true,"nice":false,"zero":false},"axis":null},"y":{"field":"e","type":"quantitative","scale":{"domain":[0,54.1],"nice":false,"zero":false},"axis":null},"order":{"field":"x","type":"quantitative","sort":"descending"}}},{"transform":[{"filter":"isValid(datum.lab)"}],"mark":"text","encoding":{"x":{"datum":3.2448,"type":"quantitative"},"y":{"datum":11,"type":"quantitative"},"text":{"field":"lab"}}}]},
{"transform":[{"filter":"datum.r==8"}],"width":533,"height":54.1,"layer":[{"transform":[{"filter":"isValid(datum.e)"}],"mark":{"type":"line","clip":true},"encoding":{"x":{"field":"x","type":"quantitative","scale":{"domain":[2.3309,3.2764],"reverse":true,"nice":false,"zero":false},"axis":null},"y":{"field":"e","type":"quantitative","scale":{"domain":[0,54.1],"nice":false,"zero":false},"axis":null},"order":{"field":"x","type":"quantitative","sort":"descending"}}},{"transform":[{"filter":"isValid(datum.lab)"}],"mark":"text","encoding":{"x":{"datum":3.2448,"type":"quantitative"},"y":{"datum":11,"type":"quantitative"},"text":{"field":"lab"}}}]},
{"transform":[{"filter":"datum.r==9"}],"width":533,"height":54.1,"layer":[{"transform":[{"filter":"isValid(datum.e)"}],"mark":{"type":"line","clip":true},"encoding":{"x":{"field":"x","type":"quantitative","scale":{"domain":[2.3309,3.2764],"reverse":true,"nice":false,"zero":false},"axis":null},"y":{"field":"e","type":"quantitative","scale":{"domain":[0,54.1],"nice":false,"zero":false},"axis":null},"order":{"field":"x","type":"quantitative","sort":"descending"}}},{"transform":[{"filter":"isValid(datum.lab)"}],"mark":"text","encoding":{"x":{"datum":3.2448,"type":"quantitative"},"y":{"datum":11,"type":"quantitative"},"text":{"field":"lab"}}}]},
{"transform":[{"filter":"datum.r==10"}],"width":533,"height":54.1,"layer":[{"transform":[{"filter":"isValid(datum.e)"}],"mark":{"type":"line","clip":true},"encoding":{"x":{"field":"x","type":"quantitative","scale":{"domain":[2.3309,3.2764],"reverse":true,"nice":false,"zero":false},"axis":null},"y":{"field":"e","type":"quantitative","scale":{"domain":[0,54.1],"nice":false,"zero":false},"axis":null},"order":{"field":"x","type":"quantitative","sort":"descending"}}},{"transform":[{"filter":"isValid(datum.lab)"}],"mark":"text","encoding":{"x":{"datum":3.2448,"type":"quantitative"},"y":{"datum":11,"type":"quantitative"},"text":{"field":"lab"}}}]},
{"transform":[{"filter":"datum.r==11"}],"width":533,"height":54.1,"layer":[{"transform":[{"filter":"isValid(datum.e)"}],"mark":{"type":"line","clip":true},"encoding":{"x":{"field":"x","type":"quantitative","scale":{"domain":[2.3309,3.2764],"reverse":true,"nice":false,"zero":false},"axis":{"title":"ppm","values":[3.2,3.1,3.0,2.9,2.8,2.7,2.6,2.5,2.4],"format":".1f","tickSize":6,"labelPadding":7,"offset":31,"titlePadding":0,"labelOverlap":false}},"y":{"field":"e","type":"quantitative","scale":{"domain":[0,54.1],"nice":false,"zero":false},"axis":null},"order":{"field":"x","type":"quantitative","sort":"descending"}}},{"transform":[{"filter":"isValid(datum.lab)"}],"mark":"text","encoding":{"x":{"datum":3.2448,"type":"quantitative"},"y":{"datum":11,"type":"quantitative"},"text":{"field":"lab"}}}]}
],"spacing":0},
{"vconcat":[
{"transform":[{"filter":"datum.r==0"}],"width":523,"height":54.1,"layer":[{"transform":[{"filter":"isValid(datum.s) && datum.x >= 2.3474"}],"mark":{"type":"line","clip":true},"encoding":{"x":{"field":"x","type":"quantitative","scale":{"domain":[2.34745,3.2764],"reverse":true,"nice":false,"zero":false},"axis":null},"y":{"field":"s","type":"quantitative","scale":{"domain":[0,54.1],"nice":false,"zero":false},"axis":null},"order":{"field":"x","type":"quantitative","sort":"descending"}}},{"transform":[{"filter":"isValid(datum.k)"}],"mark":"text","encoding":{"x":{"datum":3.2551,"type":"quantitative"},"y":{"datum":17,"type":"quantitative"},"text":{"field":"k"}}}]},
{"transform":[{"filter":"datum.r==1"}],"width":523,"height":54.1,"layer":[{"transform":[{"filter":"isValid(datum.s) && datum.x >= 2.3474"}],"mark":{"type":"line","clip":true},"encoding":{"x":{"field":"x","type":"quantitative","scale":{"domain":[2.34745,3.2764],"reverse":true,"nice":false,"zero":false},"axis":null},"y":{"field":"s","type":"quantitative","scale":{"domain":[0,54.1],"nice":false,"zero":false},"axis":null},"order":{"field":"x","type":"quantitative","sort":"descending"}}},{"transform":[{"filter":"isValid(datum.k)"}],"mark":"text","encoding":{"x":{"datum":3.2551,"type":"quantitative"},"y":{"datum":17,"type":"quantitative"},"text":{"field":"k"}}}]},
{"transform":[{"filter":"datum.r==2"}],"width":523,"height":54.1,"layer":[{"transform":[{"filter":"isValid(datum.s) && datum.x >= 2.3474"}],"mark":{"type":"line","clip":true},"encoding":{"x":{"field":"x","type":"quantitative","scale":{"domain":[2.34745,3.2764],"reverse":true,"nice":false,"zero":false},"axis":null},"y":{"field":"s","type":"quantitative","scale":{"domain":[0,54.1],"nice":false,"zero":false},"axis":null},"order":{"field":"x","type":"quantitative","sort":"descending"}}},{"transform":[{"filter":"isValid(datum.k)"}],"mark":"text","encoding":{"x":{"datum":3.2551,"type":"quantitative"},"y":{"datum":17,"type":"quantitative"},"text":{"field":"k"}}}]},
{"transform":[{"filter":"datum.r==3"}],"width":523,"height":54.1,"layer":[{"transform":[{"filter":"isValid(datum.s) && datum.x >= 2.3474"}],"mark":{"type":"line","clip":true},"encoding":{"x":{"field":"x","type":"quantitative","scale":{"domain":[2.34745,3.2764],"reverse":true,"nice":false,"zero":false},"axis":null},"y":{"field":"s","type":"quantitative","scale":{"domain":[0,54.1],"nice":false,"zero":false},"axis":null},"order":{"field":"x","type":"quantitative","sort":"descending"}}},{"transform":[{"filter":"isValid(datum.k)"}],"mark":"text","encoding":{"x":{"datum":3.2551,"type":"quantitative"},"y":{"datum":17,"type":"quantitative"},"text":{"field":"k"}}}]},
{"transform":[{"filter":"datum.r==4"}],"width":523,"height":54.1,"layer":[{"transform":[{"filter":"isValid(datum.s) && datum.x >= 2.3474"}],"mark":{"type":"line","clip":true},"encoding":{"x":{"field":"x","type":"quantitative","scale":{"domain":[2.34745,3.2764],"reverse":true,"nice":false,"zero":false},"axis":null},"y":{"field":"s","type":"quantitative","scale":{"domain":[0,54.1],"nice":false,"zero":false},"axis":null},"order":{"field":"x","type":"quantitative","sort":"descending"}}},{"transform":[{"filter":"isValid(datum.k)"}],"mark":"text","encoding":{"x":{"datum":3.2551,"type":"quantitative"},"y":{"datum":17,"type":"quantitative"},"text":{"field":"k"}}}]},
{"transform":[{"filter":"datum.r==5"}],"width":523,"height":54.1,"layer":[{"transform":[{"filter":"isValid(datum.s) && datum.x >= 2.3474"}],"mark":{"type":"line","clip":true},"encoding":{"x":{"field":"x","type":"quantitative","scale":{"domain":[2.34745,3.2764],"reverse":true,"nice":false,"zero":false},"axis":null},"y":{"field":"s","type":"quantitative","scale":{"domain":[0,54.1],"nice":false,"zero":false},"axis":null},"order":{"field":"x","type":"quantitative","sort":"descending"}}},{"transform":[{"filter":"isValid(datum.k)"}],"mark":"text","encoding":{"x":{"datum":3.2551,"type":"quantitative"},"y":{"datum":17,"type":"quantitative"},"text":{"field":"k"}}}]},
{"transform":[{"filter":"datum.r==6"}],"width":523,"height":54.1,"layer":[{"transform":[{"filter":"isValid(datum.s) && datum.x >= 2.3474"}],"mark":{"type":"line","clip":true},"encoding":{"x":{"field":"x","type":"quantitative","scale":{"domain":[2.34745,3.2764],"reverse":true,"nice":false,"zero":false},"axis":null},"y":{"field":"s","type":"quantitative","scale":{"domain":[0,54.1],"nice":false,"zero":false},"axis":null},"order":{"field":"x","type":"quantitative","sort":"descending"}}},{"transform":[{"filter":"isValid(datum.k)"}],"mark":"text","encoding":{"x":{"datum":3.2551,"type":"quantitative"},"y":{"datum":17,"type":"quantitative"},"text":{"field":"k"}}}]},
{"transform":[{"filter":"datum.r==7"}],"width":523,"height":54.1,"layer":[{"transform":[{"filter":"isValid(datum.s) && datum.x >= 2.3474"}],"mark":{"type":"line","clip":true},"encoding":{"x":{"field":"x","type":"quantitative","scale":{"domain":[2.34745,3.2764],"reverse":true,"nice":false,"zero":false},"axis":null},"y":{"field":"s","type":"quantitative","scale":{"domain":[0,54.1],"nice":false,"zero":false},"axis":null},"order":{"field":"x","type":"quantitative","sort":"descending"}}},{"transform":[{"filter":"isValid(datum.k)"}],"mark":"text","encoding":{"x":{"datum":3.2551,"type":"quantitative"},"y":{"datum":17,"type":"quantitative"},"text":{"field":"k"}}}]},
{"transform":[{"filter":"datum.r==8"}],"width":523,"height":54.1,"layer":[{"transform":[{"filter":"isValid(datum.s) && datum.x >= 2.3474"}],"mark":{"type":"line","clip":true},"encoding":{"x":{"field":"x","type":"quantitative","scale":{"domain":[2.34745,3.2764],"reverse":true,"nice":false,"zero":false},"axis":null},"y":{"field":"s","type":"quantitative","scale":{"domain":[0,54.1],"nice":false,"zero":false},"axis":null},"order":{"field":"x","type":"quantitative","sort":"descending"}}},{"transform":[{"filter":"isValid(datum.k)"}],"mark":"text","encoding":{"x":{"datum":3.2551,"type":"quantitative"},"y":{"datum":17,"type":"quantitative"},"text":{"field":"k"}}}]},
{"transform":[{"filter":"datum.r==9"}],"width":523,"height":54.1,"layer":[{"transform":[{"filter":"isValid(datum.s) && datum.x >= 2.3474"}],"mark":{"type":"line","clip":true},"encoding":{"x":{"field":"x","type":"quantitative","scale":{"domain":[2.34745,3.2764],"reverse":true,"nice":false,"zero":false},"axis":null},"y":{"field":"s","type":"quantitative","scale":{"domain":[0,54.1],"nice":false,"zero":false},"axis":null},"order":{"field":"x","type":"quantitative","sort":"descending"}}},{"transform":[{"filter":"isValid(datum.k)"}],"mark":"text","encoding":{"x":{"datum":3.2551,"type":"quantitative"},"y":{"datum":17,"type":"quantitative"},"text":{"field":"k"}}}]},
{"transform":[{"filter":"datum.r==10"}],"width":523,"height":54.1,"layer":[{"transform":[{"filter":"isValid(datum.s) && datum.x >= 2.3474"}],"mark":{"type":"line","clip":true},"encoding":{"x":{"field":"x","type":"quantitative","scale":{"domain":[2.34745,3.2764],"reverse":true,"nice":false,"zero":false},"axis":null},"y":{"field":"s","type":"quantitative","scale":{"domain":[0,54.1],"nice":false,"zero":false},"axis":null},"order":{"field":"x","type":"quantitative","sort":"descending"}}},{"transform":[{"filter":"isValid(datum.k)"}],"mark":"text","encoding":{"x":{"datum":3.2551,"type":"quantitative"},"y":{"datum":17,"type":"quantitative"},"text":{"field":"k"}}}]},
{"transform":[{"filter":"datum.r==11"}],"width":523,"height":54.1,"layer":[{"transform":[{"filter":"isValid(datum.s) && datum.x >= 2.3474"}],"mark":{"type":"line","clip":true},"encoding":{"x":{"field":"x","type":"quantitative","scale":{"domain":[2.34745,3.2764],"reverse":true,"nice":false,"zero":false},"axis":{"title":"ppm","values":[3.2,3.1,3.0,2.9,2.8,2.7,2.6,2.5,2.4],"format":".1f","tickSize":6,"labelPadding":7,"offset":31,"titlePadding":0,"labelOverlap":false}},"y":{"field":"s","type":"quantitative","scale":{"domain":[0,54.1],"nice":false,"zero":false},"axis":null},"order":{"field":"x","type":"quantitative","sort":"descending"}}},{"transform":[{"filter":"isValid(datum.k)"}],"mark":"text","encoding":{"x":{"datum":3.2551,"type":"quantitative"},"y":{"datum":17,"type":"quantitative"},"text":{"field":"k"}}}]}
],"spacing":0}
],
"spacing":19.3,
"config":{
"view":{"stroke":null},
"line":{"interpolate":"monotone","color":"black","strokeWidth":1.4},
"text":{"align":"left","baseline":"alphabetic","font":"Liberation Sans","fontSize":19.5,"color":"black"},
"axis":{"domainColor":"black","tickColor":"black","labelColor":"black","titleColor":"black","domainWidth":1,"tickWidth":1,"grid":false,
"labelFont":"DejaVu Sans Condensed, DejaVu Sans","labelFontSize":14.5,"titleFont":"DejaVu Sans Condensed, DejaVu Sans","titleFontSize":13.5,"titleFontWeight":"normal"}
}
}
